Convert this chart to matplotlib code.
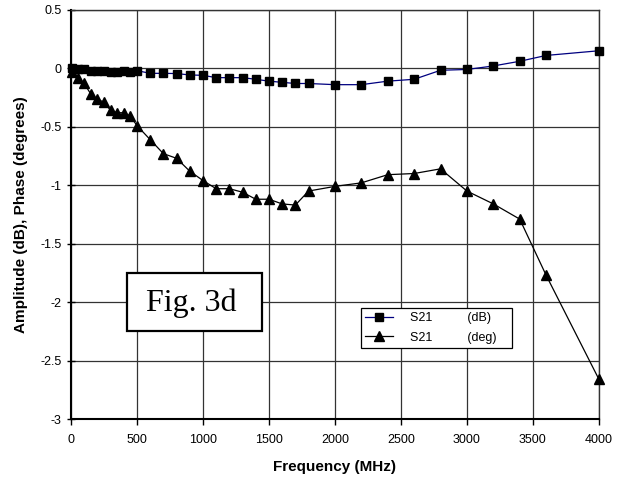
import numpy as np
import matplotlib
matplotlib.use('Agg')
from matplotlib import pyplot as plt
from matplotlib.patches import Rectangle

# data
freq = [10, 50, 100, 150, 200, 250, 300, 350, 400, 450, 500,
        600, 700, 800, 900, 1000, 1100, 1200, 1300, 1400, 1500,
        1600, 1700, 1800, 2000, 2200, 2400, 2600, 2800, 3000,
        3200, 3400, 3600, 4000]
s21_db = [0.0, -0.01, -0.01, -0.02, -0.02, -0.025, -0.03, -0.03, -0.025, -0.03, -0.02,
          -0.043, -0.043, -0.045, -0.057, -0.06, -0.08, -0.08, -0.08, -0.094, -0.11,
          -0.12, -0.13, -0.13, -0.14, -0.14, -0.11, -0.094, -0.017, -0.01,
          0.02, 0.06, 0.11, 0.15]
s21_deg = [-0.03, -0.08, -0.13, -0.22, -0.265, -0.29, -0.36, -0.38, -0.38, -0.41, -0.49,
           -0.61, -0.73, -0.77, -0.88, -0.96, -1.03, -1.03, -1.06, -1.12, -1.12,
           -1.16, -1.17, -1.05, -1.01, -0.98, -0.91, -0.90, -0.86, -1.05,
           -1.16, -1.29, -1.77, -2.66]

xticks = [0, 500, 1000, 1500, 2000, 2500, 3000, 3500, 4000]
yticks = [-3, -2.5, -2, -1.5, -1, -0.5, 0, 0.5]

plt.rcParams['font.family'] = ['Liberation Sans', 'DejaVu Sans']

fig = plt.figure(figsize=(6.27, 4.78), dpi=100)
ax = fig.add_axes([0.1132, 0.1234, 0.842, 0.856])

ax.plot(freq, s21_db, color='#000080', lw=0.9, marker='s', ms=6.3,
        mfc='black', mec='black', label='S21          (dB)    ', clip_on=False, zorder=3)
ax.plot(freq, s21_deg, color='black', lw=0.9, marker='^', ms=6.8,
        mfc='black', mec='black', label='S21          (deg)   ', clip_on=False, zorder=3)

ax.set_xlim(0, 4000)
ax.set_ylim(-3, 0.5)
ax.set_xticks(xticks)
ax.set_yticks(yticks)
ax.set_yticklabels(['-3', '-2.5', '-2', '-1.5', '-1', '-0.5', '0', '0.5'])
ax.grid(True, color='#333333', lw=0.9)
ax.set_axisbelow(True)
ax.tick_params(direction='out', length=4, width=1, labelsize=9, colors='black')
ax.tick_params(axis='x', pad=7)
ax.tick_params(axis='y', direction='inout', length=6, pad=4)

for s in ['left', 'bottom']:
    ax.spines[s].set_linewidth(1.5)
for s in ['top', 'right']:
    ax.spines[s].set_linewidth(1.0)
    ax.spines[s].set_color('#333333')

ax.set_xlabel('Frequency (MHz)', fontsize=11, fontweight='bold', labelpad=10)
ax.set_ylabel('Amplitude (dB), Phase (degrees)', fontsize=11, fontweight='bold', labelpad=9)

leg = ax.legend(loc='upper left', bbox_to_anchor=(0.549, 0.2714), fontsize=9,
                frameon=True, fancybox=False, edgecolor='black', framealpha=1,
                borderpad=0.35, borderaxespad=0, handlelength=2.2, handletextpad=1.4,
                labelspacing=0.6)
leg.get_frame().set_linewidth(0.9)

# "Fig. 3d" label box
ax.add_patch(Rectangle((0.1055, 0.216), 0.2555, 0.14, transform=ax.transAxes,
                       fc='white', ec='black', lw=1.6, zorder=5))
ax.text(0.2286, 0.284, 'Fig. 3d', transform=ax.transAxes, fontsize=23,
        family='Liberation Serif', ha='center', va='center', zorder=6)

fig.savefig('out.png', dpi=100)
